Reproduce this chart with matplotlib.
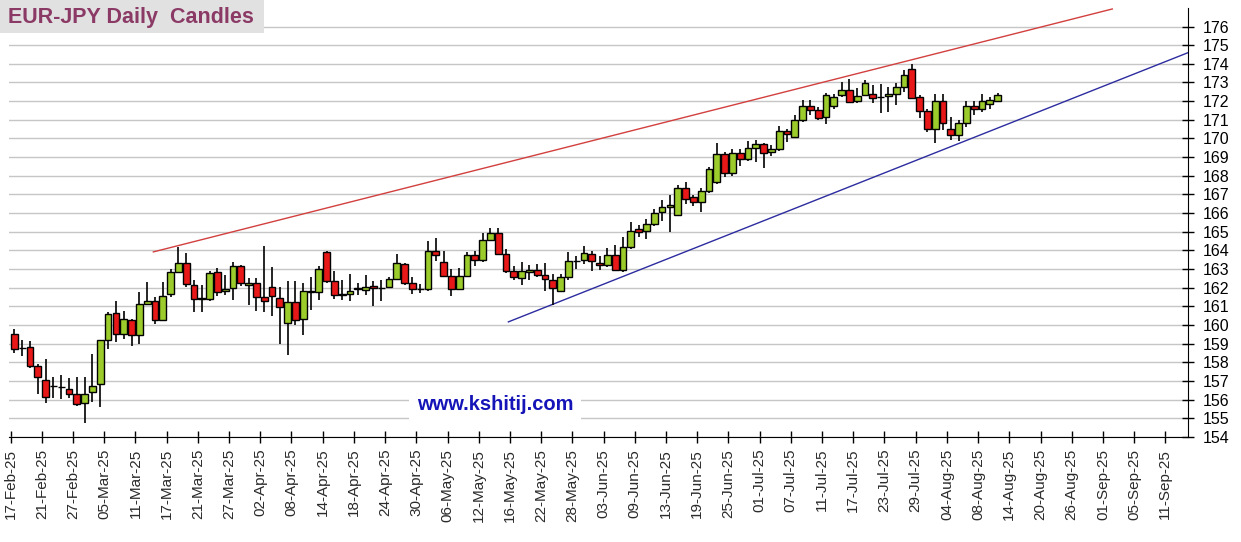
import matplotlib
matplotlib.use("Agg")
import matplotlib.pyplot as plt
from matplotlib.patches import Rectangle
import numpy as np

plt.rcParams['font.family'] = ['Liberation Sans', 'DejaVu Sans']

# daily OHLC, one row per business day from 17-Feb-25 to 12-Aug-25
opens = [159.54, 158.78, 158.83, 157.83, 157.08, 156.72, 156.70, 156.58, 156.28, 155.80,
         156.39, 156.82, 159.19, 160.67, 159.54, 160.29, 159.44, 161.15, 161.29, 160.29,
         161.68, 162.84, 163.32, 162.16, 161.44, 161.38, 162.83, 161.84, 161.98, 163.15,
         162.14, 162.25, 161.50, 162.03, 161.43, 160.09, 161.21, 160.32, 161.80, 161.78,
         163.90, 162.34, 161.65, 161.68, 161.95, 161.87, 162.07, 162.01, 162.03, 162.46,
         163.28, 162.25, 161.95, 161.93, 163.97, 163.40, 162.62, 161.95, 162.62, 163.77,
         163.50, 164.55, 164.95, 163.82, 162.88, 162.50, 162.83, 162.97, 162.70, 162.43,
         161.85, 162.55, 163.44, 163.50, 163.83, 163.33, 163.20, 163.77, 162.95, 164.16,
         165.14, 165.03, 165.41, 166.04, 166.31, 165.92, 167.34, 166.84, 166.60, 167.16,
         167.66, 169.15, 168.14, 169.20, 168.88, 169.51, 169.68, 169.26, 169.42, 170.39,
         170.09, 170.98, 171.74, 171.51, 171.16, 171.72, 172.31, 172.61, 171.99, 172.31,
         172.40, 172.22, 172.26, 172.37, 172.78, 173.70, 172.20, 171.48, 170.50, 172.03,
         170.50, 170.20, 170.82, 171.76, 171.57, 171.83, 172.03]
highs = [159.81, 159.19, 159.12, 157.90, 158.20, 157.23, 157.30, 157.14, 157.19, 157.19,
         158.47, 159.22, 160.70, 161.29, 160.77, 160.33, 161.77, 162.31, 161.50, 162.31,
         163.02, 164.20, 163.86, 162.40, 162.16, 162.87, 163.05, 162.69, 163.40, 163.22,
         162.51, 162.51, 164.24, 163.10, 162.03, 162.37, 162.37, 162.23, 162.60, 163.17,
         163.97, 162.87, 162.42, 162.74, 162.25, 162.66, 162.37, 162.42, 162.60, 163.81,
         163.35, 162.60, 162.20, 164.48, 164.66, 163.95, 163.00, 163.05, 163.90, 163.95,
         164.93, 165.22, 165.20, 164.07, 163.14, 163.38, 163.20, 163.25, 163.30, 162.76,
         162.75, 163.90, 163.70, 164.26, 163.95, 163.70, 164.15, 164.30, 164.70, 165.50,
         165.35, 165.68, 166.20, 166.72, 166.98, 167.50, 167.66, 166.98, 167.37, 168.46,
         169.77, 169.29, 169.42, 169.42, 169.86, 169.91, 169.74, 169.66, 170.66, 170.53,
         171.25, 172.05, 172.05, 171.70, 172.44, 172.40, 173.02, 173.20, 172.70, 173.11,
         172.85, 172.93, 172.78, 172.99, 173.67, 173.99, 172.33, 171.57, 172.38, 172.38,
         171.17, 171.00, 172.01, 172.00, 172.37, 172.20, 172.46]
lows = [158.51, 158.33, 157.71, 156.32, 155.80, 156.10, 156.05, 156.07, 155.68, 154.77,
        155.89, 155.59, 158.72, 159.10, 159.26, 158.88, 158.96, 161.06, 160.08, 160.25,
        161.50, 162.80, 162.04, 160.70, 160.70, 161.30, 161.57, 161.63, 161.36, 162.07,
        161.09, 160.74, 160.68, 160.47, 159.00, 158.39, 159.99, 159.46, 160.83, 161.36,
        162.25, 161.41, 161.36, 161.27, 161.63, 161.59, 161.04, 161.27, 161.98, 162.42,
        162.16, 161.68, 161.70, 161.80, 163.45, 162.55, 161.57, 161.90, 162.55, 163.14,
        163.40, 164.50, 163.77, 162.79, 162.43, 162.15, 162.40, 162.60, 161.80, 161.10,
        161.80, 162.40, 163.00, 163.25, 162.90, 162.95, 163.10, 162.90, 162.85, 164.05,
        164.70, 164.60, 165.30, 165.56, 164.99, 165.85, 166.50, 166.36, 166.06, 167.10,
        167.57, 167.93, 168.00, 168.53, 168.80, 168.76, 168.44, 169.05, 169.35, 169.83,
        170.00, 170.90, 171.25, 171.00, 170.80, 171.60, 172.20, 171.90, 171.90, 172.25,
        171.90, 171.37, 171.44, 171.80, 172.50, 172.10, 171.09, 170.37, 169.75, 170.43,
        169.90, 169.84, 170.60, 171.26, 171.40, 171.60, 171.98]
closes = [158.74, 158.76, 157.83, 157.24, 156.17, 156.76, 156.66, 156.28, 155.75, 156.32,
          156.76, 159.19, 160.61, 159.54, 160.33, 159.44, 161.15, 161.29, 160.29, 161.58,
          162.84, 163.32, 162.22, 161.42, 161.40, 162.77, 161.77, 161.94, 163.15, 162.25,
          162.25, 161.50, 161.29, 161.57, 160.95, 161.21, 160.26, 161.82, 161.78, 163.03,
          162.34, 161.63, 161.63, 161.84, 161.97, 162.02, 161.98, 162.00, 162.46, 163.31,
          162.25, 161.93, 161.93, 163.97, 163.78, 162.62, 161.92, 162.64, 163.77, 163.50,
          164.55, 164.95, 163.82, 162.88, 162.58, 162.88, 162.97, 162.70, 162.48, 162.01,
          162.55, 163.43, 163.43, 163.88, 163.43, 163.20, 163.77, 162.96, 164.16, 165.05,
          165.00, 165.41, 166.00, 166.31, 166.42, 167.34, 166.75, 166.60, 167.16, 168.35,
          169.15, 168.14, 169.20, 168.88, 169.51, 169.68, 169.24, 169.42, 170.39, 170.23,
          170.98, 171.74, 171.51, 171.12, 172.31, 172.22, 172.61, 171.96, 172.28, 172.97,
          172.19, 172.24, 172.37, 172.78, 173.40, 172.15, 171.48, 170.50, 172.03, 170.82,
          170.20, 170.82, 171.76, 171.57, 172.01, 172.06, 172.33]

# date labels, one every 4 business days
date_labels = ['17-Feb-25', '21-Feb-25', '27-Feb-25', '05-Mar-25', '11-Mar-25', '17-Mar-25',
               '21-Mar-25', '27-Mar-25', '02-Apr-25', '08-Apr-25', '14-Apr-25', '18-Apr-25',
               '24-Apr-25', '30-Apr-25', '06-May-25', '12-May-25', '16-May-25', '22-May-25',
               '28-May-25', '03-Jun-25', '09-Jun-25', '13-Jun-25', '19-Jun-25', '25-Jun-25',
               '01-Jul-25', '07-Jul-25', '11-Jul-25', '17-Jul-25', '23-Jul-25', '29-Jul-25',
               '04-Aug-25', '08-Aug-25', '14-Aug-25', '20-Aug-25', '26-Aug-25', '01-Sep-25',
               '05-Sep-25', '11-Sep-25']

# trend lines (business day index, price)
resist_x = [17.8, 140.7]
resist_y = [163.92, 176.94]
support_x = [63.3, 151.5]
support_y = [160.17, 174.78]

#----------------------------------------------------------------------
o = np.array(opens)
h = np.array(highs)
l = np.array(lows)
c = np.array(closes)
idx = np.arange(len(o))

W, H = 1241, 542
fig = plt.figure(figsize=(W / 100, H / 100), dpi=100)
ax = fig.add_axes([9 / W, 1 - 437 / H, (1188 - 9) / W, (437 - 7.85) / H])

ax.set_xlim(-0.7, 150.4)
ax.set_ylim(154, 177)

# grid
ax.set_yticks(np.arange(154, 177))
ax.yaxis.grid(True, color='#c6c6c6', lw=1.0, zorder=0)
ax.set_axisbelow(True)

# wicks then bodies
ax.vlines(idx, l, h, color='black', lw=1.2, zorder=2)
up = c >= o
body_bottom = np.minimum(o, c)
body_height = np.abs(c - o)
ax.bar(idx[up], body_height[up], bottom=body_bottom[up], width=0.87,
       color='#9ccb2c', edgecolor='black', lw=1.0, zorder=3)
ax.bar(idx[~up], body_height[~up], bottom=body_bottom[~up], width=0.87,
       color='#e81818', edgecolor='black', lw=1.0, zorder=3)

# trend lines
ax.plot(resist_x, resist_y, color='#d2403f', lw=1.0, zorder=1)
ax.plot(support_x, support_y, color='#2c2ca0', lw=1.0, zorder=1, clip_on=True)

# axes styling
for side in ['top', 'left']:
    ax.spines[side].set_visible(False)
ax.spines['bottom'].set_color('black')
ax.spines['right'].set_color('black')
ax.yaxis.tick_right()
ax.tick_params(axis='y', direction='inout', length=9, width=1, labelsize=11.5, pad=6, colors='black')

ax.set_xticks(np.arange(len(date_labels)) * 4 - 0.5)
ax.set_xticklabels(date_labels, rotation=90, fontsize=11, color='#2a2a2a')
ax.tick_params(axis='x', direction='inout', length=9, width=1, pad=4)

# title box
fig.add_artist(Rectangle((0, 1 - 33 / H), 264 / W, 33 / H, transform=fig.transFigure,
                         facecolor='#e1e1e1', edgecolor='none', zorder=5))
fig.text(8 / W, 1 - 17 / H, 'EUR-JPY Daily  Candles', ha='left', va='center',
         fontsize=15.5, fontweight='bold', color='#8b3a66', zorder=6)

# site watermark
fig.text(495 / W, 1 - 405 / H, 'www.kshitij.com', ha='center', va='center',
         fontsize=14.5, fontweight='bold', color='#1414b8', zorder=6,
         bbox=dict(boxstyle='square,pad=0.4', facecolor='white', edgecolor='none'))

plt.savefig('out.png', dpi=100)
